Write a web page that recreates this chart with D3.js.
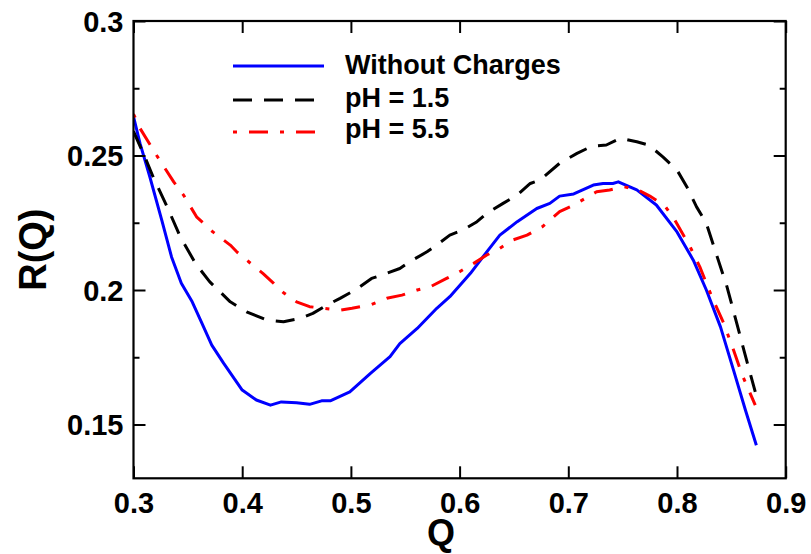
<!DOCTYPE html>
<html>
<head>
<meta charset="utf-8">
<script src="https://cdn.jsdelivr.net/npm/d3@7"></script>
<style>
  html, body { margin: 0; padding: 0; background: #fff; }
  svg { display: block; }
  text { font-family: "Liberation Sans", Arial, Helvetica, sans-serif; font-weight: bold; fill: #000; }
</style>
</head>
<body>
<svg id="chart" width="811" height="554"></svg>
<script>
// ---- data ----
const seriesNames = ["Without Charges", "pH = 1.5", "pH = 5.5"];

const qBlue = [0.300,0.306,0.315,0.326,0.335,0.344,0.354,0.363,0.372,0.383,0.400,0.413,0.426,0.436,0.450,0.462,0.473,0.481,0.499,0.518,0.536,0.545,0.561,0.579,0.591,0.610,0.625,0.637,0.653,0.671,0.683,0.692,0.705,0.723,0.732,0.741,0.746,0.763,0.781,0.800,0.815,0.827,0.840,0.852,0.863,0.873];
const rBlue = [0.2645,0.2545,0.2421,0.2260,0.2123,0.2025,0.1956,0.1876,0.1795,0.1727,0.1628,0.1591,0.1572,0.1584,0.1581,0.1575,0.1588,0.1588,0.1621,0.1690,0.1752,0.1801,0.1857,0.1932,0.1975,0.2062,0.2142,0.2204,0.2254,0.2303,0.2322,0.2349,0.2357,0.2390,0.2396,0.2396,0.2402,0.2372,0.2316,0.2216,0.2111,0.2000,0.1863,0.1702,0.1553,0.1423];

const qBlack = [0.300,0.311,0.318,0.331,0.343,0.357,0.370,0.389,0.404,0.423,0.438,0.453,0.465,0.478,0.490,0.504,0.519,0.528,0.545,0.554,0.570,0.579,0.591,0.603,0.616,0.625,0.640,0.653,0.665,0.674,0.692,0.708,0.722,0.735,0.748,0.763,0.774,0.787,0.800,0.809,0.818,0.827,0.837,0.846,0.855,0.864,0.872];
const rBlack = [0.2590,0.2489,0.2421,0.2309,0.2198,0.2099,0.2031,0.1956,0.1919,0.1888,0.1882,0.1894,0.1913,0.1944,0.1969,0.2000,0.2043,0.2055,0.2080,0.2105,0.2142,0.2167,0.2204,0.2223,0.2254,0.2285,0.2322,0.2353,0.2396,0.2409,0.2471,0.2508,0.2535,0.2539,0.2564,0.2551,0.2539,0.2495,0.2446,0.2384,0.2309,0.2248,0.2123,0.2012,0.1876,0.1739,0.1621];

const qRed = [0.300,0.306,0.321,0.337,0.346,0.358,0.373,0.389,0.395,0.406,0.419,0.429,0.438,0.450,0.462,0.475,0.490,0.501,0.519,0.533,0.547,0.561,0.573,0.588,0.600,0.613,0.625,0.637,0.649,0.662,0.676,0.692,0.705,0.714,0.726,0.738,0.751,0.763,0.775,0.789,0.798,0.812,0.821,0.832,0.843,0.852,0.860,0.872];
const rRed = [0.2654,0.2601,0.2502,0.2402,0.2353,0.2272,0.2216,0.2167,0.2142,0.2105,0.2062,0.2025,0.1990,0.1956,0.1938,0.1932,0.1925,0.1932,0.1946,0.1969,0.1981,0.2000,0.2012,0.2043,0.2068,0.2099,0.2130,0.2155,0.2186,0.2204,0.2235,0.2291,0.2316,0.2337,0.2365,0.2372,0.2384,0.2374,0.2349,0.2312,0.2260,0.2161,0.2086,0.1975,0.1876,0.1777,0.1684,0.1572];

const xTicks = [0.3, 0.4, 0.5, 0.6, 0.7, 0.8, 0.9];
const xTickLabels = ["0.3", "0.4", "0.5", "0.6", "0.7", "0.8", "0.9"];
const yTicks = [0.15, 0.2, 0.25, 0.3];
const yTickLabels = ["0.15", "0.2", "0.25", "0.3"];
const yMinorTicks = [0.175, 0.225, 0.275];

// ---- layout ----
const W = 811, H = 554;
const margin = { left: 133.5, right: 25.3, top: 21, bottom: 75.7 };
const iw = W - margin.left - margin.right;
const ih = H - margin.top - margin.bottom;

const svg = d3.select("#chart");
const g = svg.append("g").attr("transform", `translate(${margin.left},${margin.top})`);

const x = d3.scaleLinear().domain([0.3, 0.9]).range([0, iw]);
const y = d3.scaleLinear().domain([0.13, 0.3]).range([ih, 0]);

svg.append("defs").append("clipPath").attr("id", "clip")
  .append("rect").attr("x", 0).attr("y", 0).attr("width", iw).attr("height", ih);

const series = [
  { name: seriesNames[0], q: qBlue,  r: rBlue,  color: "#0000ff", dash: null },
  { name: seriesNames[1], q: qBlack, r: rBlack, color: "#000000", dash: "19,12" },
  { name: seriesNames[2], q: qRed,   r: rRed,   color: "#ff0000", dash: "4,12,19,12" }
];

const line = d3.line().x(d => x(d[0])).y(d => y(d[1]));

const plot = g.append("g").attr("clip-path", "url(#clip)");
[series[0], series[2], series[1]].forEach(s => {
  plot.append("path")
    .datum(s.q.map((q, i) => [q, s.r[i]]))
    .attr("d", line)
    .attr("fill", "none")
    .attr("stroke", s.color)
    .attr("stroke-width", 3)
    .attr("stroke-dasharray", s.dash)
    .attr("stroke-linejoin", "round");
});

// ---- axes ----
const fmtX = (d) => xTickLabels[xTicks.indexOf(d)];
const fmtY = (d) => yTickLabels[yTicks.indexOf(d)];

const axB = g.append("g").attr("transform", `translate(0,${ih})`)
  .call(d3.axisBottom(x).tickValues(xTicks).tickFormat(fmtX).tickSizeInner(-12).tickSizeOuter(0));
const axT = g.append("g")
  .call(d3.axisTop(x).tickValues(xTicks).tickFormat("").tickSizeInner(-12).tickSizeOuter(0));
const axL = g.append("g")
  .call(d3.axisLeft(y).tickValues(yTicks).tickFormat(fmtY).tickSizeInner(-12).tickSizeOuter(0));
const axR = g.append("g").attr("transform", `translate(${iw},0)`)
  .call(d3.axisRight(y).tickValues(yTicks).tickFormat("").tickSizeInner(-12).tickSizeOuter(0));
const axLm = g.append("g")
  .call(d3.axisLeft(y).tickValues(yMinorTicks).tickFormat("").tickSizeInner(-6).tickSizeOuter(0));
const axRm = g.append("g").attr("transform", `translate(${iw},0)`)
  .call(d3.axisRight(y).tickValues(yMinorTicks).tickFormat("").tickSizeInner(-6).tickSizeOuter(0));

[axB, axT, axL, axR, axLm, axRm].forEach(a => {
  a.select(".domain").remove();
  a.selectAll(".tick line").attr("stroke", "#000").attr("stroke-width", 2);
  a.selectAll(".tick text")
    .style("font-family", '"Liberation Sans", Arial, sans-serif')
    .style("font-weight", "bold")
    .style("font-size", "29px")
    .attr("fill", "#000");
});
axL.selectAll(".tick text").attr("x", -10).attr("dy", "0.36em");
axB.selectAll(".tick text").attr("y", 13).attr("dy", "0.76em");

// frame
g.append("rect").attr("x", 0).attr("y", 0).attr("width", iw).attr("height", ih)
  .attr("fill", "none").attr("stroke", "#000").attr("stroke-width", 2.2);

// axis titles
svg.append("text")
  .attr("x", 441)
  .attr("y", 545)
  .attr("text-anchor", "middle")
  .style("font-size", "36px")
  .text("Q");
svg.append("text")
  .attr("transform", `translate(46,${margin.top + ih / 2}) rotate(-90)`)
  .attr("text-anchor", "middle")
  .style("font-size", "38px")
  .text("R(Q)");

// legend
const legY = [66, 100, 132];
const legTextY = [73.5, 107, 138];
series.forEach((s, i) => {
  svg.append("line")
    .attr("x1", 233).attr("x2", 324)
    .attr("y1", legY[i]).attr("y2", legY[i])
    .attr("stroke", s.color).attr("stroke-width", 3)
    .attr("stroke-dasharray", s.dash);
  svg.append("text")
    .attr("x", 345).attr("y", legTextY[i])
    .style("font-size", "27px")
    .text(s.name);
});
</script>
</body>
</html>
